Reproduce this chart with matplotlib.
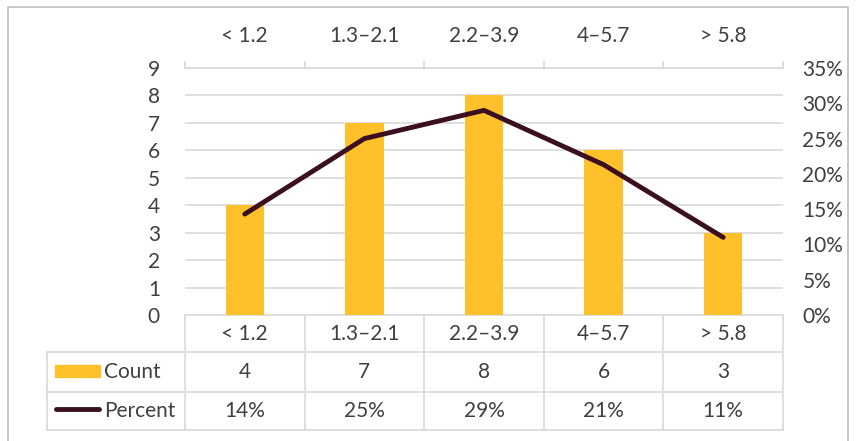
import matplotlib
matplotlib.use("Agg")
from matplotlib import pyplot as plt
from matplotlib.ticker import PercentFormatter, FixedLocator

# data
categories = ["< 1.2", "1.3\u20132.1", "2.2\u20133.9", "4\u20135.7", "> 5.8"]
count = [4, 7, 8, 6, 3]
percent = [0.143, 0.25, 0.29, 0.213, 0.11]

bar_color = "#FFC12B"
line_color = "#3A1020"
grid_color = "#D9D9D9"
text_color = "#404040"

plt.rcParams["font.family"] = ["Lato", "DejaVu Sans"]
plt.rcParams["font.size"] = 15

W, H = 856, 441
fig = plt.figure(figsize=(W / 100, H / 100), dpi=100)

# background layer in pixel coordinates for frame + data table
bg = fig.add_axes([0, 0, 1, 1])
bg.set_xlim(0, W)
bg.set_ylim(H, 0)
bg.axis("off")
bg.plot([8, 8, 848, 848], [445, 7, 7, 445], color="#BFBFBF", lw=1.2)

# plot area
x0, x1, ytop, ybot = 185, 783, 68, 315
ax = fig.add_axes([x0 / W, (H - ybot) / H, (x1 - x0) / W, (ybot - ytop) / H])
ax2 = ax.twinx()

xs = range(len(categories))
ax.bar(xs, count, width=0.32, color=bar_color, zorder=3)
ax2.plot(xs, percent, color=line_color, lw=3.5, solid_capstyle="round", solid_joinstyle="round", zorder=4)
ax2.set_zorder(ax.get_zorder() + 1)

ax.set_xlim(-0.5, len(categories) - 0.5)
ax.set_ylim(0, 9)
ax.set_yticks(range(0, 10))
ax.yaxis.grid(True, color=grid_color, lw=1.2)
ax.set_axisbelow(True)
ax.tick_params(axis="y", length=0, pad=18, labelcolor=text_color)

ax.xaxis.tick_top()
ax.set_xticks(list(xs))
ax.set_xticklabels(categories, color=text_color)
ax.tick_params(axis="x", which="major", length=0, pad=16)
ax.xaxis.set_minor_locator(FixedLocator([i - 0.5 for i in range(len(categories) + 1)]))
ax.tick_params(axis="x", which="minor", length=5, width=1.2, color=grid_color, direction="out")

ax2.set_ylim(0, 0.35)
ax2.set_yticks([i * 0.05 for i in range(8)])
ax2.yaxis.set_major_formatter(PercentFormatter(1.0, decimals=0))
ax2.tick_params(axis="y", length=0, pad=14, labelcolor=text_color)

for a in (ax, ax2):
    for s in a.spines.values():
        s.set_visible(False)
ax.spines["top"].set_visible(True)
ax.spines["top"].set_color(grid_color)
ax.spines["top"].set_linewidth(1.2)

# data table below the plot
rows = [315, 352, 392, 430]
tl = 47
cw = (x1 - x0) / len(categories)
bg.plot([x0, x1], [rows[0], rows[0]], color=grid_color, lw=1.2)
for r in rows[1:]:
    bg.plot([tl, x1], [r, r], color=grid_color, lw=1.2)
bg.plot([tl, tl], [rows[1], rows[3]], color=grid_color, lw=1.2)
for i in range(len(categories) + 1):
    xb = x0 + i * cw
    bg.plot([xb, xb], [rows[0], rows[3]], color=grid_color, lw=1.2)

for i, cat in enumerate(categories):
    xc = x0 + (i + 0.5) * cw
    bg.text(xc, (rows[0] + rows[1]) / 2, cat, ha="center", va="center", color=text_color)
    bg.text(xc, (rows[1] + rows[2]) / 2, str(count[i]), ha="center", va="center", color=text_color)
    bg.text(xc, (rows[2] + rows[3]) / 2, f"{round(percent[i] * 100)}%", ha="center", va="center", color=text_color)

# legend keys inside the table
bg.add_patch(plt.Rectangle((55, 365), 45, 12, color=bar_color))
bg.text(104, (rows[1] + rows[2]) / 2, "Count", ha="left", va="center", color=text_color)
bg.plot([56, 99], [409, 409], color=line_color, lw=3.5, solid_capstyle="round")
bg.text(104, (rows[2] + rows[3]) / 2, "Percent", ha="left", va="center", color=text_color)

fig.savefig("out.png", dpi=100)
